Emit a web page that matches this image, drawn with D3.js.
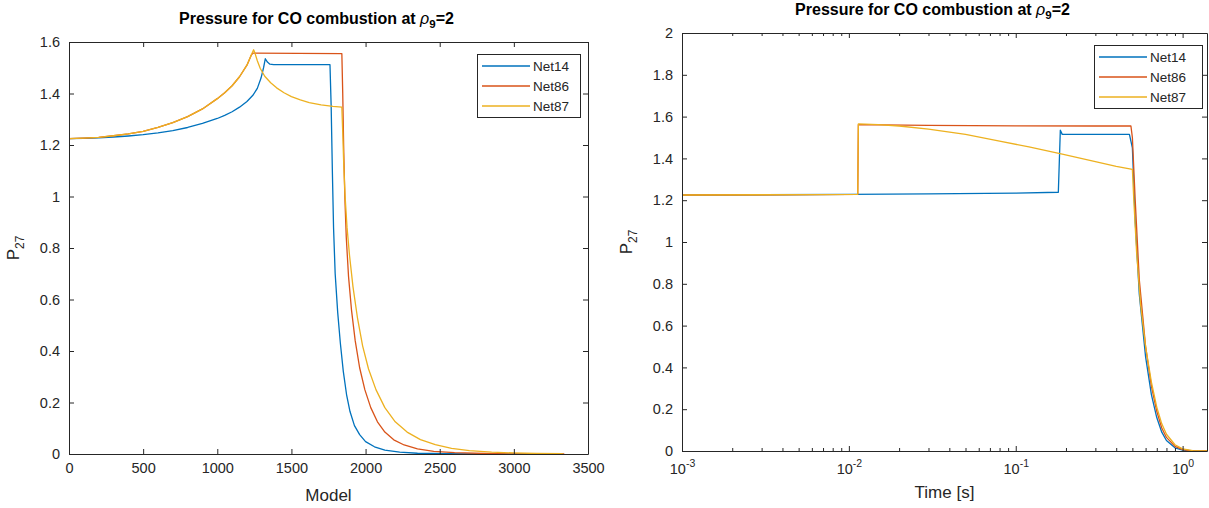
<!DOCTYPE html>
<html>
<head>
<meta charset="utf-8">
<script src="https://cdn.jsdelivr.net/npm/d3@7"></script>
<style>
  body { margin: 0; background: #fff; }
  svg { font-family: "Liberation Sans", Arial, Helvetica, sans-serif; }
</style>
</head>
<body>
<svg id="chart" width="1209" height="508"></svg>
<script>
// ---- series and tick data ----
const seriesNames = ["Net14", "Net86", "Net87"];
const seriesColors = ["#0072BD", "#D95319", "#EDB120"];

const modelTicks = [0, 500, 1000, 1500, 2000, 2500, 3000, 3500];
const pTicksModel = [0, 0.2, 0.4, 0.6, 0.8, 1, 1.2, 1.4, 1.6];
const pTicksTime = [0, 0.2, 0.4, 0.6, 0.8, 1, 1.2, 1.4, 1.6, 1.8, 2];
const timeMajorTicks = [1e-3, 1e-2, 1e-1, 1];
const timeTickExponents = ["-3", "-2", "-1", "0"];
const timeMinorTicks = [
  2e-3, 3e-3, 4e-3, 5e-3, 6e-3, 7e-3, 8e-3, 9e-3,
  2e-2, 3e-2, 4e-2, 5e-2, 6e-2, 7e-2, 8e-2, 9e-2,
  0.2, 0.3, 0.4, 0.5, 0.6, 0.7, 0.8, 0.9
];

// pressure vs model number: [model, P27]
const net14Model = [
  [0, 1.225], [100, 1.226], [200, 1.228], [300, 1.231], [400, 1.235], [500, 1.240],
  [600, 1.247], [700, 1.256], [800, 1.268], [900, 1.284], [1000, 1.303], [1050, 1.315],
  [1100, 1.329], [1150, 1.347], [1200, 1.369], [1240, 1.393], [1270, 1.42], [1295, 1.46],
  [1312, 1.50], [1324, 1.535], [1338, 1.522], [1355, 1.514], [1380, 1.512], [1760, 1.512],
  [1768, 1.35], [1776, 1.10], [1784, 0.88], [1795, 0.70], [1812, 0.55], [1830, 0.43],
  [1850, 0.32], [1872, 0.23], [1895, 0.165], [1925, 0.11], [1960, 0.075], [2000, 0.048],
  [2060, 0.028], [2130, 0.015], [2230, 0.007], [2350, 0.003], [2550, 0.001], [2800, 0],
  [3320, 0]
];
const net86Model = [
  [0, 1.225], [100, 1.227], [200, 1.23], [300, 1.236], [400, 1.243], [500, 1.253],
  [600, 1.268], [700, 1.287], [800, 1.31], [900, 1.34], [1000, 1.38], [1050, 1.403],
  [1100, 1.43], [1150, 1.465], [1200, 1.51], [1228, 1.548], [1240, 1.557],
  [1840, 1.555], [1846, 1.40], [1852, 1.20], [1860, 1.00], [1870, 0.84], [1885, 0.69],
  [1905, 0.56], [1930, 0.44], [1960, 0.335], [1995, 0.25], [2035, 0.18], [2080, 0.125],
  [2130, 0.085], [2190, 0.055], [2260, 0.035], [2350, 0.02], [2460, 0.01], [2600, 0.005],
  [2800, 0.002], [3050, 0], [3340, 0]
];
const net87Model = [
  [0, 1.225], [100, 1.227], [200, 1.23], [300, 1.236], [400, 1.243], [500, 1.253],
  [600, 1.268], [700, 1.287], [800, 1.31], [900, 1.34], [1000, 1.38], [1050, 1.403],
  [1100, 1.43], [1150, 1.465], [1200, 1.51], [1228, 1.548], [1245, 1.57], [1255, 1.555],
  [1270, 1.527], [1290, 1.497], [1320, 1.467], [1360, 1.442], [1400, 1.422], [1450, 1.403],
  [1500, 1.388], [1560, 1.375], [1620, 1.365], [1700, 1.356], [1780, 1.35], [1840, 1.347],
  [1846, 1.25], [1853, 1.12], [1862, 1.00], [1875, 0.88], [1892, 0.77], [1915, 0.65],
  [1945, 0.53], [1980, 0.42], [2020, 0.33], [2070, 0.25], [2130, 0.18], [2200, 0.125],
  [2280, 0.085], [2370, 0.056], [2470, 0.036], [2580, 0.022], [2700, 0.013], [2850, 0.007],
  [3000, 0.004], [3150, 0.002], [3330, 0.001]
];

// pressure vs time in seconds: [t, P27]
const net14Time = [
  [0.001, 1.225], [0.003, 1.226], [0.01, 1.228], [0.03, 1.23], [0.1, 1.234], [0.18, 1.238],
  [0.185, 1.535], [0.19, 1.515], [0.48, 1.515], [0.5, 1.45], [0.52, 1.10], [0.55, 0.75],
  [0.6, 0.45], [0.65, 0.27], [0.7, 0.16], [0.75, 0.09], [0.8, 0.05], [0.9, 0.015],
  [1.0, 0.004], [1.2, 0], [1.4, 0]
];
const net86Time = [
  [0.001, 1.225], [0.003, 1.226], [0.0113, 1.228], [0.0114, 1.562], [0.03, 1.558],
  [0.1, 1.556], [0.3, 1.555], [0.49, 1.555], [0.5, 1.50], [0.52, 1.20], [0.55, 0.82],
  [0.6, 0.50], [0.65, 0.31], [0.7, 0.19], [0.75, 0.11], [0.8, 0.065], [0.9, 0.022],
  [1.0, 0.007], [1.1, 0.002], [1.4, 0]
];
const net87Time = [
  [0.001, 1.225], [0.003, 1.226], [0.0113, 1.228], [0.0114, 1.565], [0.015, 1.562],
  [0.02, 1.555], [0.03, 1.54], [0.05, 1.515], [0.08, 1.483], [0.12, 1.455], [0.19, 1.42],
  [0.3, 1.385], [0.4, 1.362], [0.5, 1.348], [0.51, 1.20], [0.53, 0.95], [0.56, 0.70],
  [0.6, 0.50], [0.65, 0.33], [0.7, 0.21], [0.75, 0.13], [0.8, 0.08], [0.9, 0.03],
  [1.0, 0.01], [1.15, 0.002], [1.4, 0]
];

// ---- drawing ----
const ink = "#262626";
const svg = d3.select("#chart");

function styleAxis(g) {
  g.selectAll("path.domain").attr("stroke", ink).attr("stroke-width", 1);
  g.selectAll(".tick line").attr("stroke", ink).attr("stroke-width", 1);
  g.selectAll(".tick text").attr("fill", ink).style("font-size", "14.5px")
    .style("font-family", "'Liberation Sans', Arial, sans-serif");
}

function drawPanel(cfg) {
  const { x, y, xTicks, yTicks, series, clipId } = cfg;
  const [x0, x1] = x.range();
  const [yb, yt] = y.range();
  const root = svg.append("g");

  root.append("rect").attr("x", x0).attr("y", yt).attr("width", x1 - x0)
    .attr("height", yb - yt).attr("fill", "#fff");

  root.append("clipPath").attr("id", clipId).append("rect")
    .attr("x", x0).attr("y", yt - 2).attr("width", x1 - x0).attr("height", yb - yt + 2);

  const line = d3.line().x(d => x(d[0])).y(d => y(d[1]));
  const lines = root.append("g").attr("clip-path", `url(#${clipId})`);
  series.forEach((s, i) => {
    lines.append("path").datum(s).attr("d", line).attr("fill", "none")
      .attr("stroke", seriesColors[i]).attr("stroke-width", 1.3)
      .attr("stroke-linejoin", "round");
  });

  // bottom axis
  const bottom = root.append("g").attr("transform", `translate(0,${yb})`);
  if (cfg.log) {
    bottom.call(d3.axisBottom(x).tickValues(xTicks).tickSize(-5).tickSizeOuter(0)
      .tickFormat(() => ""));
    bottom.append("g").call(d3.axisBottom(x).tickValues(cfg.minor).tickSize(-3).tickSizeOuter(0)
      .tickFormat(() => "")).call(g => g.select("path.domain").remove()).call(styleAxis);
    bottom.selectAll(".tick").filter(d => xTicks.includes(d)).each(function (d) {
      const t = d3.select(this).append("text").attr("y", 23).attr("text-anchor", "middle")
        .attr("fill", ink).style("font-size", "14.5px");
      t.append("tspan").text("10");
      t.append("tspan").attr("dy", -7).style("font-size", "10.5px")
        .text(cfg.exponents[xTicks.indexOf(d)]);
    });
  } else {
    bottom.call(d3.axisBottom(x).tickValues(xTicks).tickSize(-5).tickSizeOuter(0).tickPadding(9)
      .tickFormat(d3.format("d")));
  }
  styleAxis(bottom);

  // top axis (ticks only)
  const top = root.append("g").attr("transform", `translate(0,${yt})`);
  top.call(d3.axisTop(x).tickValues(xTicks).tickSize(-5).tickSizeOuter(0).tickFormat(() => ""));
  if (cfg.log) {
    top.append("g").call(d3.axisTop(x).tickValues(cfg.minor).tickSize(-3).tickSizeOuter(0)
      .tickFormat(() => "")).call(g => g.select("path.domain").remove()).call(styleAxis);
  }
  styleAxis(top);

  // left axis
  const left = root.append("g").attr("transform", `translate(${x0},0)`);
  left.call(d3.axisLeft(y).tickValues(yTicks).tickSize(-5).tickSizeOuter(0).tickPadding(9)
    .tickFormat(d3.format("~g")));
  styleAxis(left);

  // right axis (ticks only)
  const right = root.append("g").attr("transform", `translate(${x1},0)`);
  right.call(d3.axisRight(y).tickValues(yTicks).tickSize(-5).tickSizeOuter(0).tickFormat(() => ""));
  styleAxis(right);

  // title
  const title = root.append("text").attr("x", (x0 + x1) / 2 - 12).attr("y", yt - 18)
    .attr("text-anchor", "middle").attr("fill", "#000")
    .style("font-size", "16px").style("font-weight", "bold");
  title.append("tspan").text("Pressure for CO combustion at ");
  title.append("tspan").style("font-style", "italic").style("font-weight", "normal").text("ρ");
  title.append("tspan").attr("dy", 4).style("font-size", "11.5px").text("9");
  title.append("tspan").attr("dy", -4).text("=2");

  // x label
  root.append("text").attr("x", (x0 + x1) / 2).attr("y", yb + 47)
    .attr("text-anchor", "middle").attr("fill", ink).style("font-size", "17px").text(cfg.xLabel);

  // y label
  const ylab = root.append("text")
    .attr("transform", `translate(${cfg.yLabelX},${(yt + yb) / 2}) rotate(-90)`)
    .attr("text-anchor", "middle").attr("fill", ink).style("font-size", "17px");
  ylab.append("tspan").text("P");
  ylab.append("tspan").attr("dy", 5).style("font-size", "12px").text("27");

  // legend
  const L = cfg.legend;
  const lg = root.append("g").attr("transform", `translate(${L.x},${L.y})`);
  lg.append("rect").attr("x", 0.5).attr("y", 0.5).attr("width", L.w).attr("height", L.h)
    .attr("fill", "#fff").attr("stroke", ink).attr("stroke-width", 1);
  seriesNames.forEach((n, i) => {
    const yy = 12 + i * 20;
    lg.append("line").attr("x1", 5).attr("x2", 53).attr("y1", yy).attr("y2", yy)
      .attr("stroke", seriesColors[i]).attr("stroke-width", 1.6);
    lg.append("text").attr("x", 56).attr("y", yy + 4.5).attr("fill", ink)
      .style("font-size", "13.5px").text(n);
  });
}

drawPanel({
  x: d3.scaleLinear().domain([0, 3500]).range([69, 588]),
  y: d3.scaleLinear().domain([0, 1.6]).range([454, 42]),
  xTicks: modelTicks, yTicks: pTicksModel,
  series: [net14Model, net86Model, net87Model],
  clipId: "clipModel", xLabel: "Model", yLabelX: 19,
  legend: { x: 477, y: 54, w: 103, h: 63 }
});

drawPanel({
  x: d3.scaleLog().domain([1e-3, 1.4]).range([682, 1207]),
  y: d3.scaleLinear().domain([0, 2]).range([451, 33]),
  xTicks: timeMajorTicks, yTicks: pTicksTime, log: true,
  exponents: timeTickExponents, minor: timeMinorTicks,
  series: [net14Time, net86Time, net87Time],
  clipId: "clipTime", xLabel: "Time [s]", yLabelX: 632,
  legend: { x: 1094, y: 45, w: 108, h: 63 }
});
</script>
</body>
</html>
